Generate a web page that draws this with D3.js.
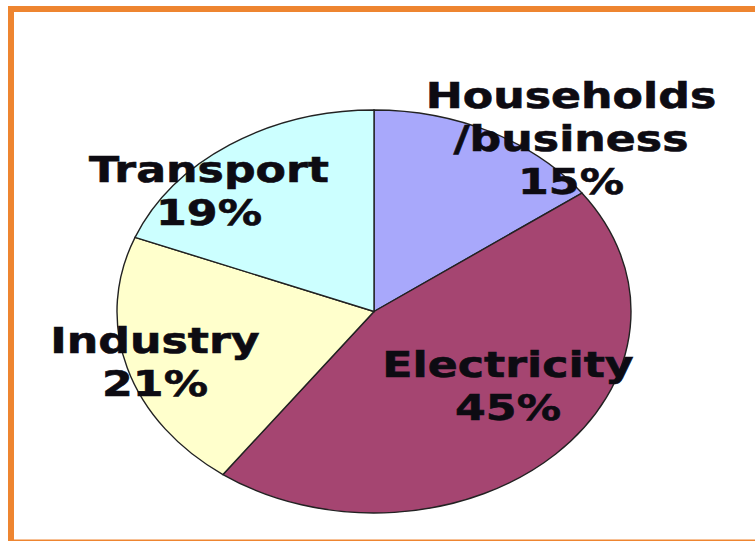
<!DOCTYPE html>
<html>
<head>
<meta charset="utf-8">
<script src="https://cdn.jsdelivr.net/npm/d3@7"></script>
<style>
  html, body { margin: 0; padding: 0; background: #fff; }
  svg { display: block; }
</style>
</head>
<body>
<svg id="chart"></svg>
<script>
// Data
const categories = ["Households\n/business", "Electricity", "Industry", "Transport"];
const shares = [15, 45, 21, 19];
const colors = ["#a8a8fb", "#a54571", "#ffffcc", "#ccffff"];

// label anchors (centre x, first baseline y) in page pixels
const labelX = [571, 508, 155, 209];
const labelY = [108, 377, 353, 182];

(function() {
  const width = 755;
  const height = 541;
  const INK = "#0d0b12";
  const ORANGE = "#ee8530";

  const svg = d3.select("#chart")
    .attr("width", width)
    .attr("height", height);

  svg.append("rect")
    .attr("width", width).attr("height", height)
    .attr("fill", "#fff");

  // Frame
  svg.append("rect")
    .attr("x", 11).attr("y", 9)
    .attr("width", 800).attr("height", 533.5)
    .attr("fill", "none")
    .attr("stroke", ORANGE)
    .attr("stroke-width", 6);

  const cx = 374, cy = 311.5, rx = 257, ry = 201.5;

  const pie = d3.pie().sort(null).value(d => d);
  const arc = d3.arc().innerRadius(0).outerRadius(ry);

  const g = svg.append("g")
    .attr("transform", `translate(${cx},${cy}) scale(${rx / ry},1)`);

  g.selectAll("path")
    .data(pie(shares))
    .join("path")
    .attr("d", arc)
    .attr("fill", (d, i) => colors[i])
    .attr("stroke", "#222")
    .attr("stroke-width", 1.4)
    .attr("vector-effect", "non-scaling-stroke");

  // Labels
  const fontSize = 36;
  const stretch = 1.23;
  const lineH = 43;

  categories.forEach((name, i) => {
    const lines = name.split("\n").concat([`${shares[i]}%`]);
    const t = svg.append("text")
      .attr("transform", `translate(${labelX[i]},${labelY[i]}) scale(${stretch},1)`)
      .attr("text-anchor", "middle")
      .attr("font-family", "'DejaVu Sans', Verdana, sans-serif")
      .attr("font-weight", 700)
      .attr("font-size", fontSize)
      .attr("fill", INK)
      .attr("stroke", INK)
      .attr("stroke-width", 0.6);
    lines.forEach((l, j) => {
      t.append("tspan")
        .attr("x", 0)
        .attr("y", j * lineH)
        .text(l);
    });
  });
})();
</script>
</body>
</html>
